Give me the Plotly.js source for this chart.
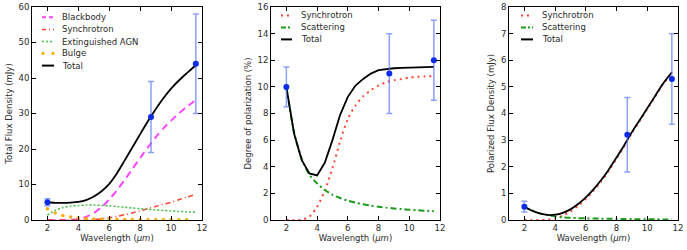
<!DOCTYPE html>
<html><head><meta charset="utf-8">
<script src="https://cdn.plot.ly/plotly-3.0.1.min.js"></script>
<style>html,body{margin:0;padding:0;background:#fff}</style>
</head><body><div id="chart" style="width:687px;height:250px"></div>
<script>
// ---- data ----
const grid = [2,2.5,3,3.5,4,4.5,5,5.5,6,6.5,7,7.5,8,8.5,9,9.5,10,10.5,11,11.6];

// Panel 1: total flux density (mJy)
const p1Blackbody = [0,0,0,0.05,0.3,0.9,2.0,3.6,5.8,8.4,11.3,14.4,17.5,20.5,23.3,25.8,28.0,30.0,31.8,33.8];
const p1Synchrotron = [0,0,0,0,0,0.02,0.1,0.3,0.6,1.0,1.5,2.0,2.6,3.2,3.8,4.4,5.0,5.7,6.4,7.2];
const p1AGN = [1.4,2.7,3.5,3.9,4.1,4.2,4.2,4.1,4.0,3.8,3.6,3.4,3.2,3.0,2.85,2.7,2.55,2.4,2.3,2.2];
const p1Bulge = [3.2,2.0,1.3,0.85,0.55,0.4,0.3,0.25,0.2,0.18,0.15,0.13,0.12,0.1,0.1,0.09,0.08,0.07,0.07,0.06];
const p1Total = [5.0,4.85,4.8,4.9,5.1,5.6,6.6,8.1,10.2,13.2,16.8,20.5,24.2,27.8,31.2,34.3,37.0,39.3,41.3,43.6];

// Panel 2: degree of polarization (%)
const p2Synchrotron = [0,0,0.02,0.25,1.0,2.2,3.9,5.9,7.6,8.6,9.3,9.75,10.1,10.35,10.5,10.6,10.7,10.75,10.78,10.8];
const p2Scattering = [10,6.6,4.6,3.4,2.75,2.25,1.9,1.65,1.45,1.3,1.18,1.08,1.0,0.93,0.87,0.82,0.77,0.73,0.7,0.66];
const p2Total = [10,6.5,4.5,3.5,3.35,4.3,6.0,7.9,9.25,10.1,10.6,11.0,11.25,11.35,11.4,11.43,11.45,11.47,11.48,11.5];

// Panel 3: polarized flux density (mJy)
const p3Synchrotron = [0,0,0,0.01,0.06,0.17,0.32,0.53,0.79,1.1,1.45,1.86,2.31,2.77,3.27,3.72,4.17,4.62,5.08,5.53];
const p3Scattering = [0.5,0.35,0.25,0.18,0.14,0.1,0.08,0.07,0.06,0.055,0.05,0.045,0.04,0.037,0.034,0.031,0.028,0.025,0.022,0.02];
const p3Total = [0.5,0.35,0.25,0.19,0.2,0.27,0.4,0.6,0.85,1.15,1.5,1.9,2.35,2.81,3.3,3.75,4.2,4.65,5.1,5.55];

// Observations
const obsX = [2, 8.7, 11.6];
const obs1 = [5, 29, 44];     const err1 = [1, 10, 14];
const obs2 = [10, 11, 12];    const err2 = [1.5, 3, 3];
const obs3 = [0.5, 3.2, 5.3]; const err3 = [0.2, 1.4, 1.7];

const xTicks = [2,4,6,8,10,12];
const yTicks1 = [0,10,20,30,40,50,60];
const yTicks2 = [0,2,4,6,8,10,12,14,16];
const yTicks3 = [0,1,2,3,4,5,6,7,8];

// ---- styles ----
const W = 687, H = 250;
const FONT = 'DejaVu Sans, sans-serif';
const TXT = '#2a2a2a';
const MAG = '#ff44ff', RED = '#ff4433', LGREEN = '#44c044', DGREEN = '#1a9a1a', ORANGE = '#ffaa00';
const ERRC = 'rgba(90,120,255,0.7)', OBSC = '#0a2be8';

function line(x, y, xa, ya, color, dash, width, shape) {
  return {x, y, xaxis: xa, yaxis: ya, type: 'scatter', mode: 'lines', showlegend: false,
    line: {color, dash, width, shape: shape || 'spline', smoothing: 0.8}, hoverinfo: 'skip'};
}
function obs(y, e, xa, ya) {
  return {x: obsX, y, xaxis: xa, yaxis: ya, type: 'scatter', mode: 'markers', showlegend: false,
    marker: {color: OBSC, size: 6},
    error_y: {type: 'data', array: e, visible: true, color: ERRC, thickness: 1.5, width: 3}};
}

const traces = [
  line(grid, p1Blackbody, 'x', 'y', MAG, '7px,5px', 2),
  line(grid, p1Synchrotron, 'x', 'y', RED, '5px,3px,1px,3px', 1.5),
  line(grid, p1AGN, 'x', 'y', LGREEN, '2px,2px', 1.5),
  {x: grid.slice(0,19), y: p1Bulge.slice(0,19), xaxis: 'x', yaxis: 'y', type: 'scatter', mode: 'markers',
   showlegend: false, marker: {color: ORANGE, size: 3.5}},
  line(grid, p1Total, 'x', 'y', '#000', 'solid', 1.8),
  obs(obs1, err1, 'x', 'y'),

  line(grid, p2Synchrotron, 'x2', 'y2', RED, '2px,4px', 2),
  line(grid, p2Scattering, 'x2', 'y2', DGREEN, '6px,3px,2px,3px', 2),
  line(grid, p2Total, 'x2', 'y2', '#000', 'solid', 1.8, 'linear'),
  obs(obs2, err2, 'x2', 'y2'),

  line(grid, p3Synchrotron, 'x3', 'y3', RED, '2px,4px', 2),
  line(grid, p3Scattering, 'x3', 'y3', DGREEN, '6px,3px,2px,3px', 2),
  line(grid, p3Total, 'x3', 'y3', '#000', 'solid', 1.8),
  obs(obs3, err3, 'x3', 'y3'),
];

function xaxis(domain, anchor) {
  return {domain, anchor, range: [1, 12], tickvals: xTicks, ticks: 'inside', ticklen: 4, tickcolor: '#000',
    showline: true, linecolor: '#000', linewidth: 1, mirror: 'allticks', showgrid: false, zeroline: false,
    tickfont: {family: FONT, size: 8.5, color: TXT},
    title: {text: 'Wavelength (<i>μm</i>)', font: {family: FONT, size: 8.5, color: TXT}, standoff: 2}};
}
function yaxis(range, ticks, title, anchor, standoff) {
  return {domain: [0.12, 0.972], anchor, range, tickvals: ticks, ticks: 'inside', ticklen: 4, tickcolor: '#000',
    showline: true, linecolor: '#000', linewidth: 1, mirror: 'allticks', showgrid: false, zeroline: false,
    tickfont: {family: FONT, size: 8.5, color: TXT},
    title: {text: title, font: {family: FONT, size: 8.5, color: TXT}, standoff}};
}

// legend built from shapes + annotations (pixel layout helpers)
const px = v => v / W, py = v => 1 - v / H;
const shapes = [], annotations = [];
function legendRow(x0, x1, tx, y, label, color, dash, width, marker) {
  if (marker) {
    [x0 + 1, x1 - 1].forEach(cx => shapes.push({type: 'circle', xref: 'paper', yref: 'paper',
      x0: px(cx - 1.6), x1: px(cx + 1.6), y0: py(y + 1.6), y1: py(y - 1.6),
      fillcolor: color, line: {width: 0}}));
  } else {
    shapes.push({type: 'line', xref: 'paper', yref: 'paper', x0: px(x0), x1: px(x1), y0: py(y), y1: py(y),
      line: {color, dash, width}});
  }
  annotations.push({xref: 'paper', yref: 'paper', x: px(tx), y: py(y), xanchor: 'left', yanchor: 'middle',
    text: label, showarrow: false, font: {family: FONT, size: 8.5, color: TXT}});
}
legendRow(42, 54, 60, 17.3, 'Blackbody', MAG, '4px,3px', 2);
legendRow(42, 54, 60, 29.4, 'Synchrotron', RED, '4px,3px,1px,3px', 1.5);
legendRow(42, 54, 60, 41.6, 'Extinguished AGN', LGREEN, '2px,2px', 1.5);
legendRow(42, 54, 60, 53.4, 'Bulge', ORANGE, null, 0, true);
legendRow(42, 54, 60, 65.6, 'Total', '#000', 'solid', 2);

legendRow(281, 292, 299, 15.4, 'Synchrotron', RED, '2px,4px', 2);
legendRow(281, 292, 299, 27.4, 'Scattering', DGREEN, '5px,2px,2px,2px', 2);
legendRow(281, 292, 299, 39.4, 'Total', '#000', 'solid', 2);

legendRow(521, 533, 540, 15.4, 'Synchrotron', RED, '2px,4px', 2);
legendRow(521, 533, 540, 27.4, 'Scattering', DGREEN, '5px,2px,2px,2px', 2);
legendRow(521, 533, 540, 39.4, 'Total', '#000', 'solid', 2);

const layout = {
  width: W, height: H, margin: {l: 0, r: 0, t: 0, b: 0},
  paper_bgcolor: '#fff', plot_bgcolor: '#fff', showlegend: false,
  font: {family: FONT, color: TXT},
  xaxis: xaxis([32/W, 202/W], 'y'),
  xaxis2: xaxis([271/W, 440/W], 'y2'),
  xaxis3: xaxis([509/W, 678/W], 'y3'),
  yaxis: yaxis([0, 60], yTicks1, 'Total Flux Density (mJy)', 'x', 4),
  yaxis2: yaxis([0, 16], yTicks2, 'Degree of polarization (%)', 'x2', 4),
  yaxis3: yaxis([0, 8], yTicks3, 'Polarized Flux Density (mJy)', 'x3', 4),
  shapes, annotations
};
Plotly.newPlot('chart', traces, layout, {staticPlot: true, displayModeBar: false});
</script></body></html>
